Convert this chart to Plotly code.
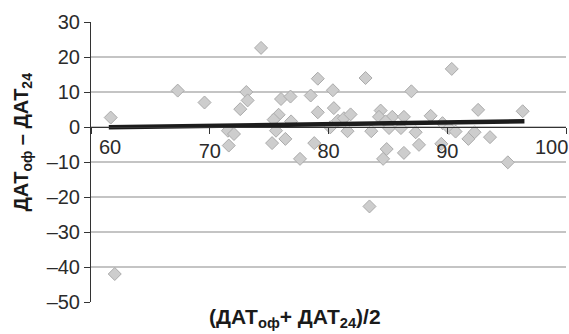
import plotly.graph_objects as go

# Mean of the two measurements (x) and their difference (y)
mean_vals = [61.66, 62.0, 67.3, 69.56, 71.53, 71.6, 72.04, 72.57, 73.08, 73.19,
             74.32, 75.25, 75.58, 75.8, 75.38, 76.0, 76.37, 76.8, 76.85, 77.6,
             78.5, 78.8, 79.1, 79.1, 80.37, 80.45, 80.8, 81.3, 81.86, 80.15,
             81.6, 83.12, 83.45, 83.6, 84.39, 84.25, 85.37, 84.8, 85.1, 84.9,
             84.6, 86.35, 86.1, 86.35, 86.98, 87.34, 87.62, 88.6, 89.6, 90.15,
             90.7, 89.5, 90.38, 92.6, 92.3, 91.78, 93.6, 95.1, 96.35]
diff_vals = [2.7, -42.0, 10.4, 7.0, -1.06, -5.3, -2.0, 5.1, 10.0, 7.6,
             22.6, -4.6, -1.06, 3.5, 2.1, 8.0, -3.4, 8.7, 1.6, -9.1,
             9.0, -4.6, 13.8, 4.2, 10.5, 5.4, 1.8, 2.5, 3.6, -0.1,
             -1.2, 14.0, -22.7, -1.2, 4.7, 2.9, 2.9, 1.6, -0.3, -6.3,
             -9.1, 2.9, -0.3, -7.4, 10.2, -1.5, -5.1, 3.2, 1.1, -0.3,
             -1.3, -4.8, 16.6, 4.9, -1.5, -3.4, -2.9, -10.1, 4.5]

# Trend line end points
trend_x = [61.5, 96.5]
trend_y = [-0.1, 1.65]

y_ticks = [-50, -40, -30, -20, -10, 0, 10, 20, 30]
y_ticktext = ["–50", "–40", "–30", "–20", "–10", "0", "10", "20", "30"]
x_ticks = [60, 70, 80, 90, 100]
x_ticktext = ["", "70", "80", "90", ""]
x_edge_labels = [("60", 60, 19), ("100", 100, -15)]

FONT = "Liberation Sans"
TXT = "#2b2b2b"

fig = go.Figure()
fig.add_trace(go.Scatter(
    x=mean_vals, y=diff_vals, mode="markers",
    marker=dict(symbol="diamond", size=10, color="#cdcdcd",
                line=dict(color="#ababab", width=1)),
    showlegend=False, hoverinfo="skip"))
fig.add_trace(go.Scatter(
    x=trend_x, y=trend_y, mode="lines",
    line=dict(color="#1c1c1c", width=4.5),
    showlegend=False, hoverinfo="skip"))

annotations = []
for txt, xv, shift in x_edge_labels:
    annotations.append(dict(
        x=xv, y=0, xref="x", yref="y", text=txt, showarrow=False,
        xanchor="center", yanchor="top", xshift=shift, yshift=-7,
        font=dict(family=FONT, size=20, color=TXT)))

annotations.append(dict(
    x=-0.145, y=0.57, xref="paper", yref="paper",
    text="ДАТ<sub>оф</sub> – ДАТ<sub>24</sub>", textangle=-90,
    showarrow=False, xanchor="center", yanchor="middle",
    font=dict(family=FONT, size=20, color="#1a1a1a", weight="bold")))
annotations.append(dict(
    x=0.43, y=-0.112, xref="paper", yref="paper",
    text="(ДАТ<sub>оф</sub>+ ДАТ<sub>24</sub>)/2",
    showarrow=False, xanchor="center", yanchor="bottom",
    font=dict(family=FONT, size=21, color="#1a1a1a", weight="bold")))

fig.update_layout(
    width=569, height=334,
    margin=dict(l=91, r=3, t=22, b=32),
    paper_bgcolor="white", plot_bgcolor="white",
    font=dict(family=FONT, size=20, color=TXT),
    annotations=annotations,
    xaxis=dict(range=[60, 100], anchor="free", position=0.625,
               showgrid=False, zeroline=False,
               showline=True, linecolor="#333333", linewidth=1,
               ticks="outside", ticklen=6, tickcolor="#333333",
               tickvals=x_ticks, ticktext=x_ticktext,
               tickfont=dict(family=FONT, size=20, color=TXT)),
    yaxis=dict(range=[-50, 30], showgrid=True, gridcolor="#c4c4c4",
               gridwidth=1.5, zeroline=False,
               showline=True, linecolor="#333333", linewidth=1,
               ticks="outside", ticklen=6, tickcolor="#333333",
               tickvals=y_ticks, ticktext=y_ticktext,
               tickfont=dict(family=FONT, size=20, color=TXT)),
)

fig.write_html("out.html")
